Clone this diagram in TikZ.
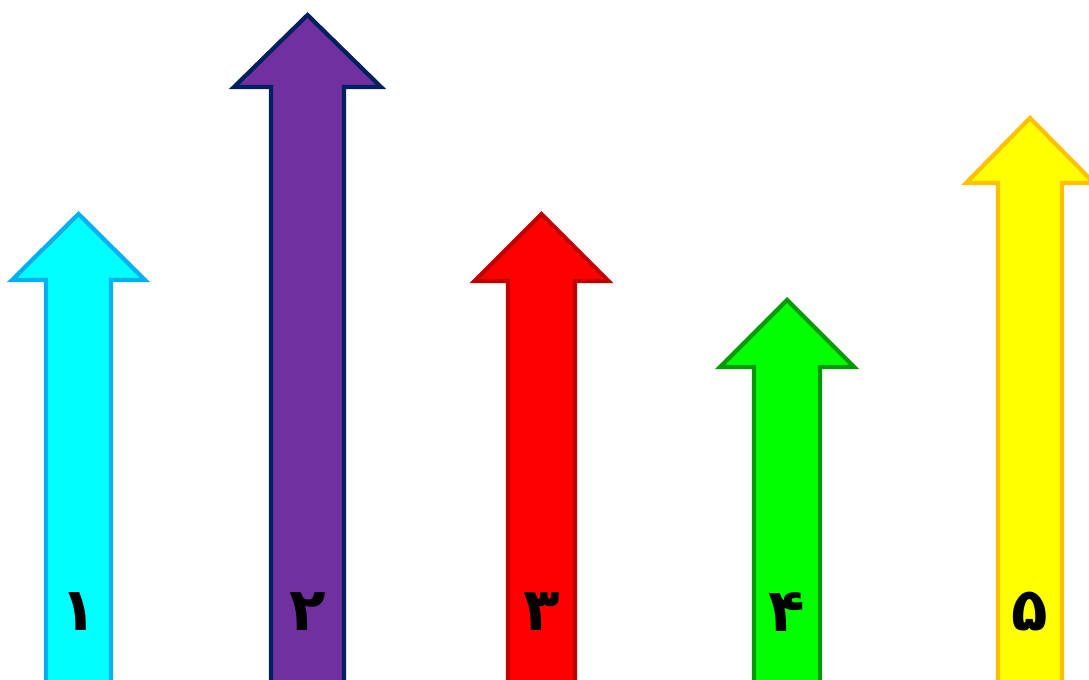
\documentclass[tikz,border=0pt]{standalone}
\usepackage{fontspec}
\usepackage{xcolor}
\usepackage{tikz}
\TeXXeTstate=1
\newfontfamily\arabicfont[Script=Arabic]{DejaVu Sans}
\definecolor{aqua}{HTML}{00FFFF}
\definecolor{skyline}{HTML}{00B0F0}
\definecolor{plum}{HTML}{7030A0}
\definecolor{navyline}{HTML}{002060}
\definecolor{brightred}{HTML}{FF0000}
\definecolor{darkred}{HTML}{C00000}
\definecolor{lime}{HTML}{00FF00}
\definecolor{darkgreen}{HTML}{009900}
\definecolor{lemon}{HTML}{FFFF00}
\definecolor{amber}{HTML}{FFC000}

\begin{document}
\begin{tikzpicture}[x=0.01cm, y=-0.01cm,
  uparrow/.style={line width=1.2pt, line join=miter},
  digit/.style={font=\arabicfont\bfseries\fontsize{17}{20}\selectfont, inner sep=0pt}]
  \useasboundingbox (0,0) rectangle (1089,679);
  \clip (0,0) rectangle (1089,679);
  % centre / half shaft / half head / tip / head base / fill / border / label
  \foreach \c/\w/\h/\tip/\base/\fillc/\drawc/\lab/\name in {
      78.5/32.5/66.5/214/280/aqua/skyline/۱/one,
      307.5/36.5/73.5/15/87/plum/navyline/۲/two,
      541.5/33.5/67/214/281/brightred/darkred/۳/three,
      787/33/67/300/367/lime/darkgreen/۴/four,
      1030/32/64/118/183/lemon/amber/۵/five}{
    \draw[uparrow, fill=\fillc, draw=\drawc]
      (\c-\w,720) -- (\c-\w,\base) -- (\c-\h,\base) -- (\c,\tip)
      -- (\c+\h,\base) -- (\c+\w,\base) -- (\c+\w,720) -- cycle;
    \node[digit] (\name) at (\c,612) {\beginR\lab\endR};
  }
\end{tikzpicture}
\end{document}
